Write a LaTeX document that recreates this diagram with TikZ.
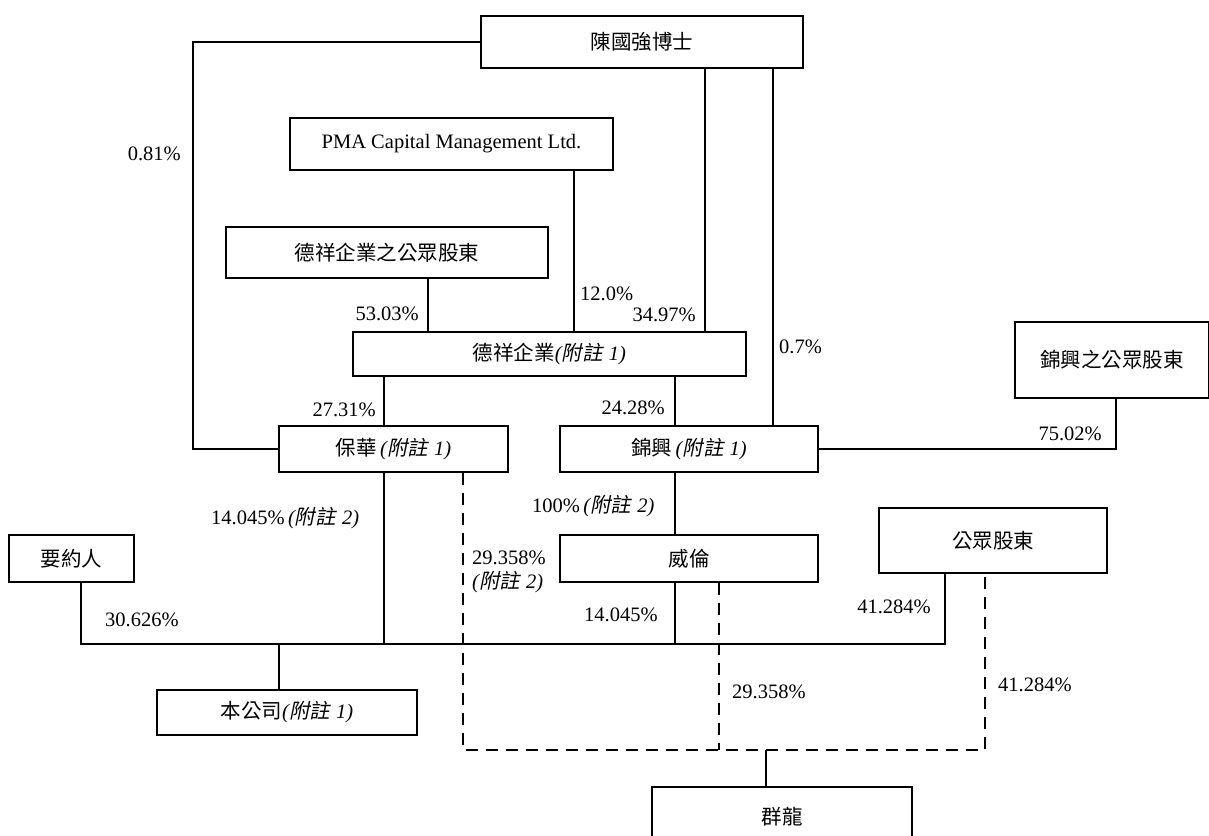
\documentclass[tikz,border=0pt]{standalone}
\usepackage{fontspec}
\setmainfont{Liberation Serif}
\newfontfamily\cjk{Noto Sans CJK TC}
\newfontfamily\cjkit[FakeSlant=0.2]{Noto Sans CJK TC}
\newcommand\fz[1]{{\itshape(}{\cjkit 附註}\hspace{0.3em}{\itshape #1)}}
\begin{document}
\begin{tikzpicture}[x=1pt,y=-1pt,
  every node/.style={font=\fontsize{20.5}{24}\selectfont},
  box/.style={draw,line width=1.2pt,inner sep=0pt,anchor=center},
  lbl/.style={inner sep=0pt},
  conn/.style={line width=1.2pt},
  dconn/.style={line width=1.2pt,dash pattern=on 12pt off 8pt}]
\clip (0,0) rectangle (1209,835);
\fill[white] (0,0) rectangle (1209,835);
% boxes
\node[box,minimum width=322,minimum height=52] (chen) at (642,42) {\cjk 陳國強博士};
\node[box,minimum width=323,minimum height=52] (pma) at (451.5,144) {PMA Capital Management Ltd.};
\node[box,minimum width=322,minimum height=51] (dxpub) at (387,252.5) {\cjk 德祥企業之公眾股東};
\node[box,minimum width=393,minimum height=44] (dexiang) at (549.5,354) {{\cjk 德祥企業}\fz{1}};
\node[box,minimum width=229,minimum height=46] (baohua) at (393.5,449) {{\cjk 保華}\,\fz{1}};
\node[box,minimum width=258,minimum height=46] (jinxing) at (689,449) {{\cjk 錦興}\,\fz{1}};
\node[box,minimum width=194,minimum height=76] (jxpub) at (1112,360) {\cjk 錦興之公眾股東};
\node[box,minimum width=258,minimum height=47] (weilun) at (689,558.5) {\cjk 威倫};
\node[box,minimum width=228,minimum height=65] (public) at (993,540.5) {\cjk 公眾股東};
\node[box,minimum width=125,minimum height=47] (offeror) at (71.5,558.5) {\cjk 要約人};
\node[box,minimum width=260,minimum height=45] (company) at (287,712.5) {{\cjk 本公司}\fz{1}};
\node[box,minimum width=260,minimum height=60] (qunlong) at (782,817) {\cjk 群龍};
% column coordinates
\coordinate (c81) at (81,0);
\coordinate (c193) at (193,0);
\coordinate (c279) at (279,0);
\coordinate (c384) at (384,0);
\coordinate (c428) at (428,0);
\coordinate (c463) at (463,0);
\coordinate (c574) at (574,0);
\coordinate (c675) at (675,0);
\coordinate (c705) at (705,0);
\coordinate (c719) at (719,0);
\coordinate (c766) at (766,0);
\coordinate (c773) at (773,0);
\coordinate (c1116) at (1116,0);
\coordinate (bus) at (945,644);
\coordinate (dbus) at (985,750);
% solid connectors
\draw[conn] (chen.west) -| (c193 |- baohua.west) -- (baohua.west);
\draw[conn] (pma.south -| c574) -- (dexiang.north -| c574);
\draw[conn] (dxpub.south -| c428) -- (dexiang.north -| c428);
\draw[conn] (chen.south -| c705) -- (dexiang.north -| c705);
\draw[conn] (chen.south -| c773) -- (jinxing.north -| c773);
\draw[conn] (dexiang.south -| c384) -- (baohua.north -| c384);
\draw[conn] (dexiang.south -| c675) -- (jinxing.north -| c675);
\draw[conn] (jxpub.south -| c1116) |- (jinxing.east);
\draw[conn] (jinxing.south -| c675) -- (weilun.north -| c675);
\draw[conn] (offeror.south -| c81) |- (bus) -- (public.south -| bus);
\draw[conn] (baohua.south -| c384) -- (c384 |- bus);
\draw[conn] (weilun.south -| c675) -- (c675 |- bus);
\draw[conn] (company.north -| c279) -- (c279 |- bus);
\draw[conn] (qunlong.north -| c766) -- (c766 |- dbus);
% dashed connectors
\draw[dconn] (baohua.south -| c463) |- (dbus) -- (public.south -| dbus);
\draw[dconn] (weilun.south -| c719) -- (c719 |- dbus);
% labels
\node[lbl,anchor=east] (l081) at (181,154) {0.81\%};
\node[lbl,anchor=east] (l5303) at (419,314) {53.03\%};
\node[lbl,anchor=west] (l120) at (580,294) {12.0\%};
\node[lbl,anchor=east] (l3497) at (696,315) {34.97\%};
\node[lbl,anchor=west] (l07) at (779,347) {0.7\%};
\node[lbl,anchor=east] (l2731) at (376,410) {27.31\%};
\node[lbl,anchor=east] (l2428) at (665,408) {24.28\%};
\node[lbl,anchor=east] (l7502) at (1102,434) {75.02\%};
\node[lbl,anchor=west] (l100) at (532,506) {100\%\,\fz{2}};
\node[lbl,anchor=west] (l14a) at (211,518) {14.045\%\,\fz{2}};
\node[lbl,anchor=west] (l29a) at (472,558) {29.358\%};
\node[lbl,anchor=west] (l29an) at (472,582) {\fz{2}};
\node[lbl,anchor=west] (l30) at (105,620) {30.626\%};
\node[lbl,anchor=west] (l14b) at (584,615) {14.045\%};
\node[lbl,anchor=east] (l41a) at (931,607) {41.284\%};
\node[lbl,anchor=west] (l29b) at (732,692) {29.358\%};
\node[lbl,anchor=west] (l41b) at (998,685) {41.284\%};
\end{tikzpicture}
\end{document}
